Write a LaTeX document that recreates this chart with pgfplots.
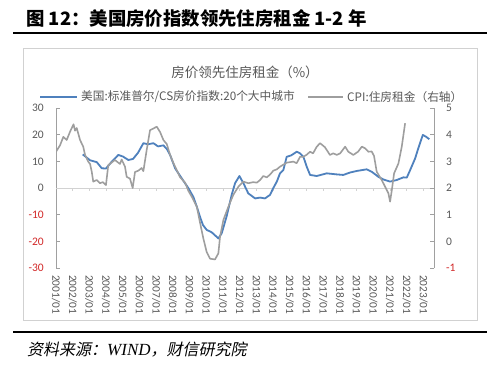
\documentclass[border=0pt]{standalone}
\usepackage{fontspec}
\usepackage{pgfplots}
\usepackage{pgfplotstable}
\pgfplotsset{compat=1.18}
\setmainfont{Carlito}
\newfontfamily\cjk{Noto Sans CJK SC}
\newfontfamily\cjksl{Noto Sans CJK SC}[FakeSlant=0.2]
\newfontfamily\tnr{Liberation Serif}
\definecolor{blueS}{RGB}{79,129,189}
\definecolor{grayS}{RGB}{158,158,158}
\definecolor{txt}{RGB}{89,89,89}
\definecolor{negred}{RGB}{210,40,40}
\definecolor{axg}{RGB}{160,160,160}
\definecolor{zerog}{RGB}{210,210,210}

\pgfplotstableread{
x y
2002.60 12.6
2003.04 10.4
2003.44 9.7
2003.74 7.4
2003.99 7.3
2004.34 9.9
2004.73 12.4
2005.01 11.8
2005.33 10.5
2005.61 10.9
2005.91 13.2
2006.23 16.8
2006.51 16.4
2006.83 16.8
2007.11 15.6
2007.43 16.0
2007.65 14.5
2007.83 12.4
2008.13 7.4
2008.53 3.6
2008.92 0.0
2009.22 -3.3
2009.43 -7.0
2009.62 -10.8
2009.80 -13.9
2010.02 -15.7
2010.32 -16.6
2010.72 -18.9
2010.92 -17.0
2011.22 -10.5
2011.52 -2.5
2011.72 1.8
2011.98 4.5
2012.22 1.8
2012.51 -2.0
2012.92 -3.9
2013.22 -3.6
2013.51 -3.9
2013.81 -2.6
2014.01 0.0
2014.22 2.4
2014.41 5.5
2014.61 6.7
2014.81 11.7
2015.07 12.2
2015.41 13.6
2015.61 13.0
2015.81 11.7
2016.01 8.0
2016.21 4.9
2016.61 4.5
2017.21 5.5
2017.81 5.1
2018.20 4.9
2018.60 5.8
2019.01 6.4
2019.60 7.0
2019.90 6.1
2020.30 4.2
2020.60 3.2
2021.00 2.4
2021.40 3.0
2021.80 4.0
2022.00 3.9
2022.20 6.7
2022.50 11.1
2022.69 14.9
2022.96 19.9
2023.16 19.2
2023.35 18.3
}\hpi

\pgfplotstableread{
x y
2001.00 3.36
2001.24 3.60
2001.44 3.92
2001.64 3.80
2001.84 4.11
2002.05 4.39
2002.14 4.15
2002.24 4.25
2002.44 3.80
2002.63 3.55
2002.74 3.24
2002.93 2.99
2003.04 2.90
2003.14 2.61
2003.23 2.24
2003.44 2.30
2003.63 2.18
2003.81 2.22
2003.99 2.11
2004.13 2.86
2004.34 2.96
2004.53 3.05
2004.83 2.90
2004.93 3.07
2005.13 2.80
2005.23 2.42
2005.43 2.35
2005.59 2.00
2005.73 2.60
2005.93 2.65
2006.13 2.75
2006.23 2.63
2006.43 3.43
2006.63 4.17
2006.83 4.23
2007.03 4.30
2007.23 4.10
2007.43 3.80
2007.63 3.65
2007.83 3.24
2008.02 2.95
2008.23 2.67
2008.43 2.40
2008.73 2.20
2008.92 1.90
2009.13 1.67
2009.43 1.30
2009.62 0.71
2009.82 0.11
2010.02 -0.40
2010.22 -0.65
2010.52 -0.68
2010.72 -0.45
2010.82 0.17
2011.02 0.80
2011.32 1.30
2011.62 1.75
2011.92 2.05
2012.22 2.24
2012.51 2.18
2012.81 2.22
2013.02 2.20
2013.22 2.30
2013.41 2.45
2013.62 2.40
2013.81 2.50
2014.01 2.65
2014.22 2.70
2014.41 2.80
2014.81 2.95
2015.21 2.99
2015.41 2.93
2015.61 3.17
2015.81 3.17
2016.01 3.25
2016.21 3.36
2016.39 3.30
2016.61 3.55
2016.81 3.68
2017.10 3.53
2017.40 3.24
2017.60 3.30
2017.81 3.24
2018.01 3.30
2018.31 3.55
2018.50 3.36
2018.80 3.24
2019.08 3.36
2019.31 3.55
2019.50 3.49
2019.70 3.36
2019.90 3.37
2020.04 3.20
2020.20 2.61
2020.50 2.30
2020.70 2.05
2020.90 1.80
2021.00 1.49
2021.10 1.90
2021.24 2.55
2021.50 2.92
2021.70 3.55
2021.90 4.43
}\rent

\begin{document}
\begin{tikzpicture}
\begin{scope}[x=1bp,y=1bp]
\useasboundingbox (0,0) rectangle (500,365);
\fill[white] (0,0) rectangle (500,365);
% header
\node[anchor=west, inner sep=0pt, font=\cjk\bfseries\fontsize{18.4bp}{20bp}\selectfont] at (26,346) {图 12：美国房价指数领先住房租金 1-2 年};
\draw[line width=2bp] (13,332) -- (487,332);
\draw[line width=2bp] (13,33) -- (487,33);
\draw[black!18, line width=0.9bp] (23,45) rectangle (477,317);
\node[font=\cjk\fontsize{13.5bp}{15bp}\selectfont, text=txt] at (245,293) {房价领先住房租金（\%）};
% legend
\draw[blueS, line width=1.8bp] (40,268) -- (77,268);
\node[anchor=west, inner sep=0pt, font=\cjk\fontsize{11.7bp}{13bp}\selectfont, text=txt] at (81,268) {美国:标准普尔/CS房价指数:20个大中城市};
\draw[grayS, line width=1.8bp] (308,268) -- (343,268);
\node[anchor=west, inner sep=0pt, font=\cjk\fontsize{11.7bp}{13bp}\selectfont, text=txt] at (347,268) {CPI:住房租金（右轴）};
% source
\node[anchor=west, inner sep=0pt, font=\cjksl\fontsize{16bp}{18bp}\selectfont] at (27,15) {资料来源：{\tnr\itshape\fontsize{17bp}{18bp}\selectfont WIND}，财信研究院};
\end{scope}

\begin{axis}[
  at={(56bp,97bp)}, anchor=south west, scale only axis,
  width=378bp, height=160bp,
  xmin=1, xmax=23.63, ymin=-30, ymax=30,
  axis y line*=left, axis x line*=bottom,
  x axis line style={draw=none},
  y axis line style={draw=axg, line width=0.9bp},
  xtick={1,2,...,23},
  xticklabels={2001/01,2002/01,2003/01,2004/01,2005/01,2006/01,2007/01,2008/01,2009/01,2010/01,2011/01,2012/01,2013/01,2014/01,2015/01,2016/01,2017/01,2018/01,2019/01,2020/01,2021/01,2022/01,2023/01},
  x tick style={draw=none},
  xticklabel style={rotate=-90, anchor=west, inner sep=0pt, font=\fontsize{11.3bp}{12bp}\selectfont, text=txt},
  xticklabel shift=7bp,
  ytick={-30,-20,...,30},
  yticklabels={\textcolor{negred}{-30},\textcolor{negred}{-20},\textcolor{negred}{-10},0,10,20,30},
  yticklabel style={inner sep=0pt, font=\fontsize{11.5bp}{12bp}\selectfont, text=txt},
  yticklabel shift=12bp,
  tick align=inside,
  y tick style={draw=axg, line width=0.8bp},
  major tick length=4bp,
  clip=false,
]
\draw[zerog, line width=0.9bp] (axis cs:1,0) -- (axis cs:23.63,0);
\pgfplotsinvokeforeach{2,...,23}{\draw[zerog, line width=0.8bp] (axis cs:#1,0) -- ++(0pt,-3pt);}
\addplot[blueS, line width=1.8bp, line join=round] table[x expr=\thisrow{x}-2000,y=y] {\hpi};
\end{axis}

\begin{axis}[
  at={(56bp,97bp)}, anchor=south west, scale only axis,
  width=378bp, height=160bp,
  xmin=1, xmax=23.63, ymin=-1, ymax=5,
  axis y line*=right, axis x line=none,
  y axis line style={draw=axg, line width=0.9bp},
  ytick={-1,0,...,5},
  yticklabels={\textcolor{negred}{-1},0,1,2,3,4,5},
  yticklabel style={inner sep=0pt, font=\fontsize{11.5bp}{12bp}\selectfont, text=txt},
  yticklabel shift=12bp,
  tick align=inside,
  y tick style={draw=axg, line width=0.8bp},
  major tick length=4bp,
]
\addplot[grayS, line width=1.6bp, line join=round] table[x expr=\thisrow{x}-2000,y=y] {\rent};
\end{axis}
\end{tikzpicture}
\end{document}
